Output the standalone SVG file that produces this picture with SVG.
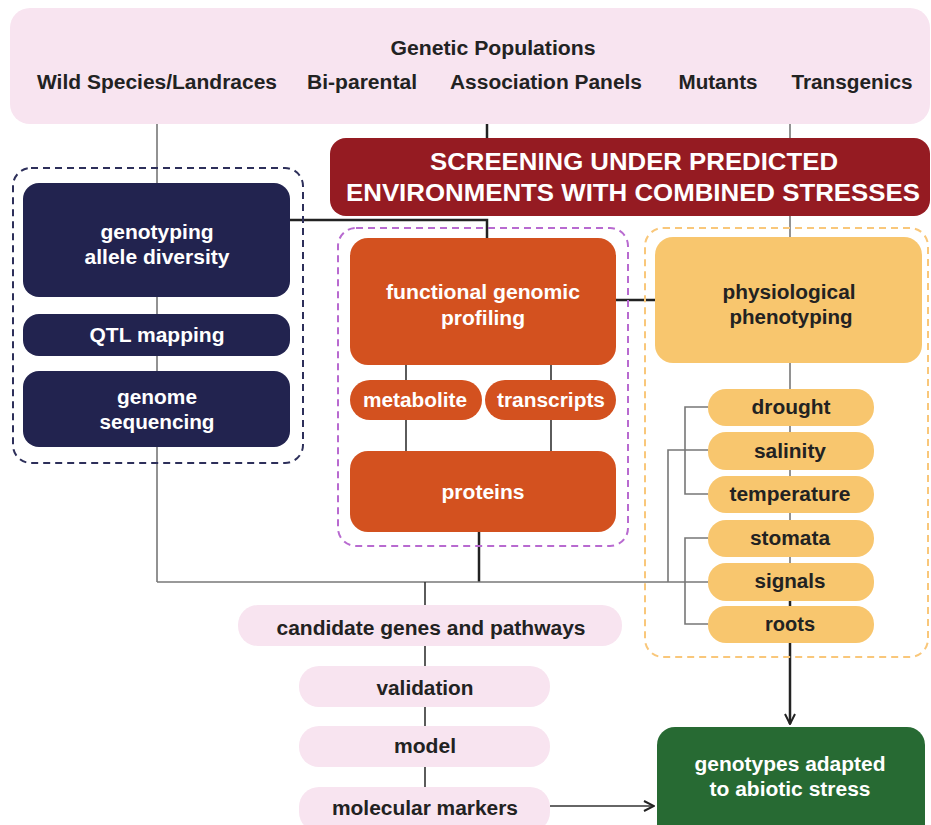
<svg xmlns="http://www.w3.org/2000/svg" width="931" height="825" viewBox="0 0 931 825">
<defs>
<marker id="arr" viewBox="0 0 12 12" refX="11" refY="6" markerWidth="12" markerHeight="12" markerUnits="userSpaceOnUse" orient="auto">
<path d="M1,1 L11,6 L1,11" fill="none" stroke="#222" stroke-width="2"/>
</marker>
</defs>
<style>
text{font-family:"Liberation Sans",Arial,sans-serif;font-weight:bold;font-size:20px;text-anchor:middle}
.dk{fill:#222}
.wt{fill:#fff}
.pink{fill:#f8e4f0}
.navy{fill:#22234f}
.org{fill:#d3511f}
.yel{fill:#f8c66e}
.gray{stroke:#777;stroke-width:1.6;fill:none}
.blk{stroke:#222;stroke-width:2.5;fill:none}
.thin{stroke:#333;stroke-width:1.6;fill:none}
.dash{fill:none;stroke-width:2;stroke-dasharray:7 5}
</style>
<rect x="0" y="0" width="931" height="825" fill="#fff"/>

<g id="connectors">
<line class="gray" x1="157" y1="124" x2="157" y2="582"/>
<line class="blk" x1="487" y1="124" x2="487" y2="138"/>
<line class="gray" x1="790" y1="124" x2="790" y2="237"/>
<polyline class="blk" points="290,220 487,220 487,238"/>
<line class="blk" x1="616" y1="300" x2="655" y2="300"/>
<line class="thin" x1="406" y1="365" x2="406" y2="451"/>
<line class="thin" x1="551" y1="365" x2="551" y2="451"/>
<line class="blk" x1="479" y1="532" x2="479" y2="582"/>
<line class="gray" x1="157" y1="582" x2="708" y2="582"/>
<line class="gray" x1="790" y1="363" x2="790" y2="606"/>
<polyline class="gray" points="708,407 685,407 685,494 708,494"/>
<polyline class="gray" points="708,450 668,450 668,582"/>
<polyline class="gray" points="708,538 685,538 685,624 708,624"/>
<line class="blk" x1="790" y1="601" x2="790" y2="724" marker-end="url(#arr)"/>
<line class="thin" x1="425" y1="582" x2="425" y2="787"/>
<line class="thin" x1="550" y1="806" x2="654" y2="806" marker-end="url(#arr)"/>
</g>

<g id="genetic-populations">
<rect class="pink" x="10" y="8" width="920" height="116" rx="20"/>
<text class="dk" x="493" y="55" textLength="205" lengthAdjust="spacingAndGlyphs">Genetic Populations</text>
<text class="dk" x="157" y="89" textLength="240" lengthAdjust="spacingAndGlyphs">Wild Species/Landraces</text>
<text class="dk" x="362" y="89" textLength="110" lengthAdjust="spacingAndGlyphs">Bi-parental</text>
<text class="dk" x="546" y="89" textLength="192" lengthAdjust="spacingAndGlyphs">Association Panels</text>
<text class="dk" x="718" y="89" textLength="79" lengthAdjust="spacingAndGlyphs">Mutants</text>
<text class="dk" x="852" y="89" textLength="121" lengthAdjust="spacingAndGlyphs">Transgenics</text>
</g>

<g id="screening">
<rect x="330" y="138" width="600" height="78" rx="16" fill="#951b22"/>
<text class="wt" x="634" y="170" style="font-size:24px" textLength="408" lengthAdjust="spacingAndGlyphs">SCREENING UNDER PREDICTED</text>
<text class="wt" x="633" y="201" style="font-size:24px" textLength="574" lengthAdjust="spacingAndGlyphs">ENVIRONMENTS WITH COMBINED STRESSES</text>
</g>

<g id="genomics-group">
<rect class="dash" stroke="#2d2f5a" x="13" y="168" width="290" height="295" rx="18"/>
</g>
<g id="genotyping">
<rect class="navy" x="23" y="183" width="267" height="114" rx="16"/>
<text class="wt" x="157" y="239" textLength="113" lengthAdjust="spacingAndGlyphs">genotyping</text>
<text class="wt" x="157" y="264" textLength="145" lengthAdjust="spacingAndGlyphs">allele diversity</text>
</g>
<g id="qtl-mapping">
<rect class="navy" x="23" y="314" width="267" height="42" rx="16"/>
<text class="wt" x="157" y="342" textLength="135" lengthAdjust="spacingAndGlyphs">QTL mapping</text>
</g>
<g id="genome-sequencing">
<rect class="navy" x="23" y="371" width="267" height="76" rx="16"/>
<text class="wt" x="157" y="404" textLength="80" lengthAdjust="spacingAndGlyphs">genome</text>
<text class="wt" x="157" y="429" textLength="115" lengthAdjust="spacingAndGlyphs">sequencing</text>
</g>

<g id="functional-group">
<rect class="dash" stroke="#b86ad0" x="338" y="228" width="290" height="318" rx="18"/>
</g>
<g id="functional-genomic-profiling">
<rect class="org" x="350" y="238" width="266" height="127" rx="18"/>
<text class="wt" x="483" y="299" textLength="194" lengthAdjust="spacingAndGlyphs">functional genomic</text>
<text class="wt" x="483" y="325" textLength="84" lengthAdjust="spacingAndGlyphs">profiling</text>
</g>
<g id="metabolite">
<rect class="org" x="350" y="380" width="132" height="40" rx="20"/>
<text class="wt" x="415" y="407" textLength="104" lengthAdjust="spacingAndGlyphs">metabolite</text>
</g>
<g id="transcripts">
<rect class="org" x="485" y="380" width="131" height="40" rx="20"/>
<text class="wt" x="551" y="407" textLength="108" lengthAdjust="spacingAndGlyphs">transcripts</text>
</g>
<g id="proteins">
<rect class="org" x="350" y="451" width="266" height="81" rx="18"/>
<text class="wt" x="483" y="499" textLength="83" lengthAdjust="spacingAndGlyphs">proteins</text>
</g>

<g id="physiology-group">
<rect class="dash" stroke="#f9c77a" x="645" y="228" width="283" height="429" rx="18"/>
</g>
<g id="physiological-phenotyping">
<rect class="yel" x="655" y="237" width="267" height="126" rx="18"/>
<text class="dk" x="789" y="299" textLength="133" lengthAdjust="spacingAndGlyphs">physiological</text>
<text class="dk" x="791" y="324" textLength="123" lengthAdjust="spacingAndGlyphs">phenotyping</text>
</g>
<g id="drought">
<rect class="yel" x="708" y="389" width="166" height="37" rx="18"/>
<text class="dk" x="791" y="414" textLength="79" lengthAdjust="spacingAndGlyphs">drought</text>
</g>
<g id="salinity">
<rect class="yel" x="708" y="432" width="166" height="38" rx="18"/>
<text class="dk" x="790" y="458" textLength="72" lengthAdjust="spacingAndGlyphs">salinity</text>
</g>
<g id="temperature">
<rect class="yel" x="708" y="476" width="166" height="37" rx="18"/>
<text class="dk" x="790" y="501" textLength="121" lengthAdjust="spacingAndGlyphs">temperature</text>
</g>
<g id="stomata">
<rect class="yel" x="708" y="520" width="166" height="37" rx="18"/>
<text class="dk" x="790" y="545" textLength="80" lengthAdjust="spacingAndGlyphs">stomata</text>
</g>
<g id="signals">
<rect class="yel" x="708" y="563" width="166" height="38" rx="18"/>
<text class="dk" x="790" y="588" textLength="71" lengthAdjust="spacingAndGlyphs">signals</text>
</g>
<g id="roots">
<rect class="yel" x="708" y="606" width="166" height="37" rx="18"/>
<text class="dk" x="790" y="631" textLength="50" lengthAdjust="spacingAndGlyphs">roots</text>
</g>

<g id="candidate-genes">
<rect class="pink" x="238" y="605" width="384" height="41" rx="20"/>
<text class="dk" x="431" y="635" textLength="309" lengthAdjust="spacingAndGlyphs">candidate genes and pathways</text>
</g>
<g id="validation">
<rect class="pink" x="299" y="666" width="251" height="41" rx="20"/>
<text class="dk" x="425" y="695" textLength="97" lengthAdjust="spacingAndGlyphs">validation</text>
</g>
<g id="model">
<rect class="pink" x="299" y="726" width="251" height="41" rx="20"/>
<text class="dk" x="425" y="753" textLength="62" lengthAdjust="spacingAndGlyphs">model</text>
</g>
<g id="molecular-markers">
<rect class="pink" x="299" y="787" width="251" height="45" rx="20"/>
<text class="dk" x="425" y="815" textLength="186" lengthAdjust="spacingAndGlyphs">molecular markers</text>
</g>

<g id="genotypes-adapted">
<rect x="657" y="727" width="268" height="120" rx="18" fill="#276a33"/>
<text class="wt" x="790" y="771" textLength="191" lengthAdjust="spacingAndGlyphs">genotypes adapted</text>
<text class="wt" x="790" y="796" textLength="161" lengthAdjust="spacingAndGlyphs">to abiotic stress</text>
</g>
</svg>
